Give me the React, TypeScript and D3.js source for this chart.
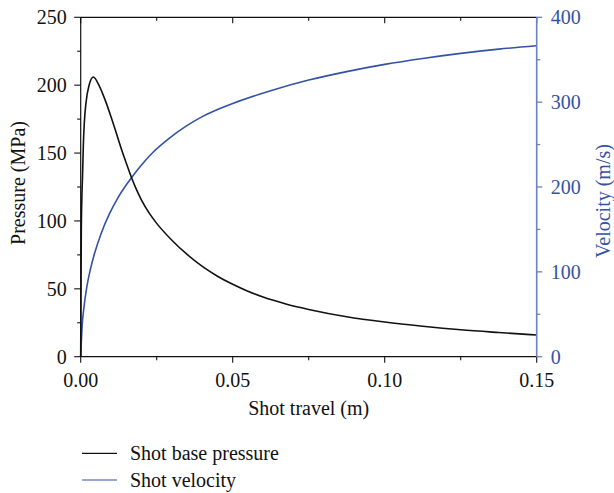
import React from "react";
import * as d3 from "d3";

const travel = [0, 0.0002, 0.00066, 0.00086, 0.00118, 0.00174, 0.00283, 0.00415, 0.0061, 0.0083, 0.01, 0.0116, 0.0133, 0.015, 0.0167, 0.0185, 0.02, 0.0225, 0.025, 0.03, 0.035, 0.04, 0.045, 0.05, 0.055, 0.06, 0.0675, 0.075, 0.0875, 0.1, 0.1125, 0.125, 0.1375, 0.15];
const pressure = [0, 95, 137.5, 155, 172, 187, 200.5, 206, 199.5, 187.5, 176.5, 165.5, 153.5, 142.5, 132, 122.3, 115.4, 105.9, 98.2, 85.8, 75.3, 66.5, 59.3, 53.3, 48.2, 43.9, 38.8, 34.8, 29.4, 25.5, 22.4, 19.8, 17.8, 16];

const velTravel = [0, 0.0005, 0.001, 0.002, 0.003, 0.0045, 0.0067, 0.0094, 0.0122, 0.0149, 0.0167, 0.02, 0.0238, 0.0293, 0.0348, 0.0403, 0.0458, 0.05, 0.0625, 0.075, 0.0875, 0.1, 0.1125, 0.125, 0.1375, 0.15];
const velocity = [0, 38, 56, 82, 100, 121, 145, 168, 187, 202, 211, 226, 241, 258, 272, 283.5, 292.5, 298.5, 313.5, 326, 336, 344.5, 351.5, 357.5, 362.5, 366.5];

const xTicks = [0, 0.05, 0.1, 0.15];
const xMinor = [0.025, 0.075, 0.125];
const pTicks = [0, 50, 100, 150, 200, 250];
const pMinor = [25, 75, 125, 175, 225];
const vTicks = [0, 100, 200, 300, 400];
const vMinor = [50, 150, 250, 350];

const legendLabels = ["Shot base pressure", "Shot velocity"];

const BLACK = "#111111";
const BLUE = "#3352a5";
const BLUE_AXIS = "#6a82c4";
const FONT = "'Liberation Serif', 'Times New Roman', serif";

export default function App() {
  const L = 80.7, R = 536.7, T = 17.3, B = 356.7;
  const x = d3.scaleLinear().domain([0, 0.15]).range([L, R]);
  const yP = d3.scaleLinear().domain([0, 250]).range([B, T]);
  const yV = d3.scaleLinear().domain([0, 400]).range([B, T]);

  const pData = travel.map((t, i) => [t, pressure[i]] as [number, number]);
  const vData = velTravel.map((t, i) => [t, velocity[i]] as [number, number]);

  const pLine = d3.line<[number, number]>().x(d => x(d[0])).y(d => yP(d[1])).curve(d3.curveMonotoneX);
  const vLine = d3.line<[number, number]>().x(d => x(d[0])).y(d => yV(d[1])).curve(d3.curveMonotoneX);

  const fmtX = d3.format(".2f");
  const fs = 20;

  return (
    <svg width={614} height={493} style={{ position: "absolute", left: 0, top: 0, background: "#fff" }} fontFamily={FONT}>
      <rect x={0} y={0} width={614} height={493} fill="#fff" />
      {/* curves */}
      <path d={vLine(vData) || ""} fill="none" stroke={BLUE} strokeWidth={1.6} />
      <path d={pLine(pData) || ""} fill="none" stroke={BLACK} strokeWidth={1.6} />

      {/* top axis */}
      <line x1={L} x2={R} y1={T} y2={T} stroke={BLACK} strokeWidth={1.2} />
      {xTicks.map(t => (
        <line key={"tt" + t} x1={x(t)} x2={x(t)} y1={T} y2={T + 6} stroke={BLACK} strokeWidth={1.1} />
      ))}
      {xMinor.map(t => (
        <line key={"tm" + t} x1={x(t)} x2={x(t)} y1={T} y2={T + 3.5} stroke={BLACK} strokeWidth={1.1} />
      ))}

      {/* bottom axis */}
      <line x1={L} x2={R} y1={B} y2={B} stroke={BLACK} strokeWidth={1.2} />
      {xTicks.map(t => (
        <g key={"bt" + t}>
          <line x1={x(t)} x2={x(t)} y1={B} y2={B + 6} stroke={BLACK} strokeWidth={1.1} />
          <text x={x(t)} y={386.5} fontSize={fs} textAnchor="middle" fill={BLACK}>{fmtX(t)}</text>
        </g>
      ))}
      {xMinor.map(t => (
        <line key={"bm" + t} x1={x(t)} x2={x(t)} y1={B} y2={B + 3.5} stroke={BLACK} strokeWidth={1.1} />
      ))}
      <text x={(L + R) / 2} y={415} fontSize={fs} textAnchor="middle" fill={BLACK}>Shot travel (m)</text>

      {/* left axis */}
      <line x1={L} x2={L} y1={T} y2={B} stroke={BLACK} strokeWidth={1.2} />
      {pTicks.map(t => (
        <g key={"lt" + t}>
          <line x1={L - 6.5} x2={L} y1={yP(t)} y2={yP(t)} stroke={BLACK} strokeWidth={1.1} />
          <text x={L - 14} y={yP(t)} dy="0.35em" fontSize={fs} textAnchor="end" fill={BLACK}>{t}</text>
        </g>
      ))}
      {pMinor.map(t => (
        <line key={"lm" + t} x1={L - 3.5} x2={L} y1={yP(t)} y2={yP(t)} stroke={BLACK} strokeWidth={1.1} />
      ))}
      <text transform={`translate(25,183) rotate(-90)`} fontSize={fs} textAnchor="middle" fill={BLACK}>Pressure (MPa)</text>

      {/* right axis */}
      <line x1={R} x2={R} y1={T} y2={B} stroke={BLUE_AXIS} strokeWidth={1.6} />
      {vTicks.map(t => (
        <g key={"rt" + t}>
          <line x1={R} x2={R + 5.5} y1={yV(t)} y2={yV(t)} stroke={BLUE_AXIS} strokeWidth={1.3} />
          <text x={R + 14} y={yV(t)} dy="0.35em" fontSize={fs} textAnchor="start" fill={BLUE}>{t}</text>
        </g>
      ))}
      {vMinor.map(t => (
        <line key={"rm" + t} x1={R} x2={R + 3.5} y1={yV(t)} y2={yV(t)} stroke={BLUE_AXIS} strokeWidth={1.3} />
      ))}
      <text transform={`translate(610,201) rotate(-90)`} fontSize={fs} textAnchor="middle" fill={BLUE}>Velocity (m/s)</text>

      {/* legend */}
      {legendLabels.map((lab, i) => (
        <g key={lab}>
          <line x1={82} x2={117} y1={453.3 + i * 26.7} y2={453.3 + i * 26.7} stroke={i === 0 ? BLACK : BLUE} strokeWidth={1.2} />
          <text x={130} y={453.3 + i * 26.7} dy="0.33em" fontSize={fs} fill={BLACK}>{lab}</text>
        </g>
      ))}
    </svg>
  );
}
